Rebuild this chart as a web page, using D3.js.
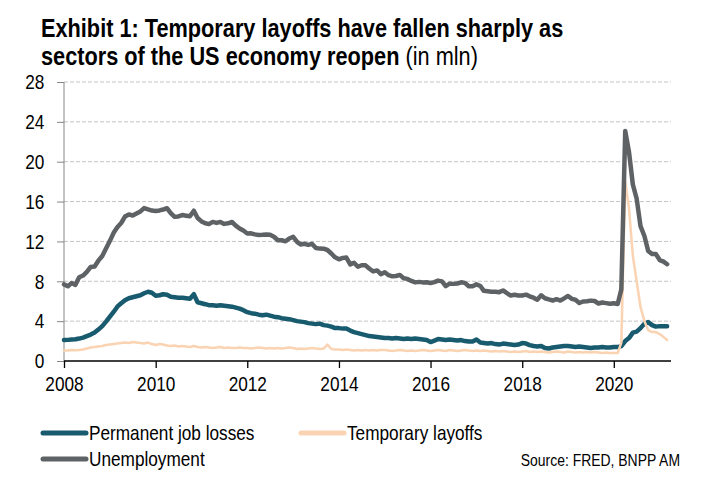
<!DOCTYPE html>
<html>
<head>
<meta charset="utf-8">
<script src="https://cdn.jsdelivr.net/npm/d3@7"></script>
<style>
  body { margin: 0; background: #fff; }
  svg { display: block; font-family: 'Liberation Sans', Arial, sans-serif; }
</style>
</head>
<body>
<div id="chart"></div>
<script>
// monthly, Jan 2008 .. Mar 2021 (millions)
const startMonth = '2008-01-01';

const permanent = [
  2.10, 2.12, 2.15, 2.18, 2.25, 2.35, 2.50, 2.65, 2.85, 3.15, 3.50, 3.95,
  4.45, 4.95, 5.45, 5.80, 6.10, 6.30, 6.40, 6.50, 6.60, 6.80, 6.95, 6.85,
  6.55, 6.60, 6.70, 6.65, 6.45, 6.40, 6.35, 6.35, 6.30, 6.25, 6.70, 5.90,
  5.80, 5.70, 5.60, 5.60, 5.55, 5.60, 5.55, 5.50, 5.45, 5.35, 5.25, 5.10,
  4.90, 4.80, 4.75, 4.65, 4.60, 4.65, 4.55, 4.45, 4.40, 4.30, 4.25, 4.20,
  4.10, 4.00, 3.95, 3.90, 3.80, 3.75, 3.70, 3.75, 3.60, 3.55, 3.45, 3.30,
  3.30, 3.25, 3.25, 3.05, 2.90, 2.80, 2.70, 2.60, 2.50, 2.45, 2.40, 2.35,
  2.30, 2.30, 2.25, 2.30, 2.25, 2.20, 2.25, 2.20, 2.25, 2.20, 2.15, 2.10,
  1.90, 2.05, 2.20, 2.15, 2.10, 2.15, 2.10, 2.05, 2.10, 2.00, 1.95, 1.95,
  2.15, 1.85, 1.80, 1.75, 1.80, 1.70, 1.65, 1.75, 1.70, 1.65, 1.60, 1.65,
  1.80, 1.75, 1.60, 1.50, 1.45, 1.50, 1.30, 1.25, 1.35, 1.40, 1.45, 1.50,
  1.50, 1.45, 1.40, 1.45, 1.40, 1.35, 1.30, 1.35, 1.35, 1.40, 1.35, 1.35,
  1.40, 1.40, 1.50, 2.00, 2.30, 2.85, 2.95, 3.30, 3.75, 3.90, 3.60, 3.45,
  3.50, 3.50, 3.50
];

const temporary = [
  1.05, 1.05, 1.10, 1.08, 1.10, 1.15, 1.25, 1.35, 1.40, 1.45, 1.50, 1.60,
  1.65, 1.70, 1.75, 1.80, 1.85, 1.80, 1.90, 1.85, 1.80, 1.75, 1.85, 1.70,
  1.60, 1.70, 1.65, 1.55, 1.50, 1.55, 1.45, 1.50, 1.45, 1.40, 1.50, 1.40,
  1.35, 1.40, 1.35, 1.30, 1.35, 1.40, 1.30, 1.35, 1.30, 1.30, 1.35, 1.30,
  1.30, 1.25, 1.30, 1.35, 1.30, 1.25, 1.30, 1.25, 1.30, 1.25, 1.30, 1.35,
  1.30, 1.20, 1.25, 1.20, 1.25, 1.30, 1.25, 1.20, 1.25, 1.65, 1.20, 1.15,
  1.15, 1.10, 1.15, 1.10, 1.05, 1.10, 1.05, 1.10, 1.05, 1.10, 1.05, 1.10,
  1.10, 1.05, 1.00, 1.05, 1.10, 1.05, 1.00, 1.05, 1.00, 1.05, 1.10, 1.05,
  1.00, 1.05, 1.10, 1.05, 1.00, 1.10, 1.05, 1.00, 1.05, 1.10, 1.05, 1.00,
  1.05, 1.00, 1.05, 1.00, 0.95, 1.00, 0.95, 1.00, 0.95, 0.90, 0.95, 0.90,
  0.95, 1.00, 0.90, 0.95, 0.90, 0.95, 0.90, 0.85, 0.90, 0.95, 0.90, 0.85,
  0.95, 0.90, 0.85, 0.90, 0.85, 0.90, 0.85, 0.90, 0.85, 0.80, 0.85, 0.80,
  0.80, 0.80, 1.85, 18.05, 15.35, 10.55, 8.00, 5.40, 4.00, 3.10, 2.90, 2.90,
  2.70, 2.40, 2.10
];

const unemployment = [
  7.69, 7.50, 7.82, 7.64, 8.40, 8.58, 8.94, 9.44, 9.49, 10.07, 10.54, 11.29,
  12.06, 12.90, 13.43, 13.85, 14.50, 14.71, 14.60, 14.81, 15.01, 15.35, 15.22, 15.10,
  15.05, 15.11, 15.20, 15.33, 14.85, 14.47, 14.51, 14.65, 14.58, 14.52, 15.08, 14.35,
  14.01, 13.82, 13.74, 13.96, 13.86, 13.96, 13.76, 13.82, 13.95, 13.59, 13.30, 13.09,
  12.80, 12.81, 12.71, 12.65, 12.66, 12.69, 12.66, 12.47, 12.12, 12.12, 12.01, 12.30,
  12.47, 11.95, 11.69, 11.76, 11.65, 11.75, 11.34, 11.28, 11.27, 11.14, 10.79, 10.40,
  10.20, 10.35, 10.38, 9.70, 9.86, 9.46, 9.61, 9.60, 9.26, 8.99, 9.09, 8.72,
  8.90, 8.61, 8.50, 8.53, 8.64, 8.30, 8.24, 8.03, 7.89, 7.94, 7.89, 7.91,
  7.83, 7.92, 8.07, 7.99, 7.52, 7.76, 7.74, 7.78, 7.90, 7.84, 7.50, 7.50,
  7.69, 7.53, 7.04, 7.00, 6.96, 6.96, 6.91, 7.08, 6.81, 6.57, 6.64, 6.57,
  6.57, 6.66, 6.49, 6.35, 6.15, 6.59, 6.30, 6.18, 6.07, 6.20, 6.07, 6.29,
  6.53, 6.24, 6.15, 5.82, 5.97, 5.99, 6.06, 6.02, 5.77, 5.87, 5.81, 5.74,
  5.80, 5.72, 7.19, 23.08, 20.99, 17.70, 16.31, 13.54, 12.54, 11.05, 10.73, 10.74,
  10.13, 9.97, 9.71
];

const yTicks = [0, 4, 8, 12, 16, 20, 24, 28];
const xTickYears = [2008, 2010, 2012, 2014, 2016, 2018, 2020];

const series = [
  { name: 'Permanent job losses', values: permanent, color: '#185a6e', width: 4.5 },
  { name: 'Temporary layoffs', values: temporary, color: '#fad3b3', width: 2.5 },
  { name: 'Unemployment', values: unemployment, color: '#5e6265', width: 4.5 }
];

const W = 716, H = 498;
const LEFT = 64, RIGHT = 671, TOP = 82, BOTTOM = 361;
const NARROW = 0.82; // no Arial Narrow here, so squeeze Liberation Sans

const start = new Date(startMonth + 'T00:00:00');
const months = permanent.map((d, i) => d3.timeMonth.offset(start, i));

const x = d3.scaleTime()
            .domain([start, d3.timeMonth.offset(start, months.length)])
            .range([LEFT, RIGHT]);

const y = d3.scaleLinear()
            .domain([0, 28])
            .range([BOTTOM, TOP]);

const svg = d3.select('#chart')
              .append('svg')
              .attr('width', W)
              .attr('height', H);

const narrowText = (px, py, size) => svg.append('text')
                                        .attr('transform', `translate(${px}, ${py}) scale(${NARROW}, 1)`)
                                        .style('font-size', `${size}px`)
                                        .attr('fill', '#000');

// title
narrowText(41, 37, 26.5)
  .style('font-weight', 'bold')
  .text('Exhibit 1: Temporary layoffs have fallen sharply as');
const t2 = narrowText(41, 65, 26.5);
t2.append('tspan').style('font-weight', 'bold').text('sectors of the US economy reopen');
t2.append('tspan').text(' (in mln)');

// gridlines
svg.append('g')
   .selectAll('line')
   .data(yTicks.filter(d => d > 0))
   .enter()
   .append('line')
   .attr('x1', LEFT)
   .attr('x2', RIGHT)
   .attr('y1', d => y(d))
   .attr('y2', d => y(d))
   .attr('stroke', '#c4c4c4')
   .attr('stroke-width', 1)
   .attr('stroke-dasharray', '4,2');

// y axis
const yAxis = d3.axisLeft(y)
                .tickValues(yTicks)
                .tickSize(7)
                .tickPadding(17);

const yAx = svg.append('g')
               .attr('transform', `translate(${LEFT}, 0)`)
               .call(yAxis);
yAx.attr('font-family', null);
yAx.select('.domain').attr('stroke', '#868686').attr('d', `M0,${TOP}V${BOTTOM}`);
yAx.selectAll('line').attr('stroke', '#868686');
yAx.selectAll('text')
   .style('font-size', '21px')
   .attr('fill', '#000')
   .attr('transform', `scale(${NARROW}, 1)`);

// x axis
const xAxis = d3.axisBottom(x)
                .tickValues(xTickYears.map(yr => new Date(yr, 0, 1)))
                .tickFormat(d3.timeFormat('%Y'))
                .tickSize(7)
                .tickPadding(8);

const xAx = svg.append('g')
               .attr('transform', `translate(0, ${BOTTOM})`)
               .call(xAxis);
xAx.attr('font-family', null);
xAx.select('.domain').attr('stroke', '#000').attr('stroke-width', 1.3).attr('d', `M${LEFT},0H${RIGHT}`);
xAx.selectAll('line').attr('stroke', '#000').attr('stroke-width', 1.3);
xAx.selectAll('text')
   .style('font-size', '21px')
   .attr('fill', '#000')
   .attr('transform', `scale(${NARROW}, 1)`);

// lines
const line = d3.line()
               .x((d, i) => x(months[i]))
               .y(d => y(d));

series.forEach(s => {
  svg.append('path')
     .datum(s.values)
     .attr('fill', 'none')
     .attr('stroke', s.color)
     .attr('stroke-width', s.width)
     .attr('stroke-linejoin', 'round')
     .attr('stroke-linecap', 'round')
     .attr('d', line);
});

// legend
const legendPos = [
  { x: 43, y: 433 },
  { x: 301, y: 433 },
  { x: 43, y: 459 }
];

series.forEach((s, i) => {
  const p = legendPos[i];
  svg.append('line')
     .attr('x1', p.x)
     .attr('x2', p.x + 43)
     .attr('y1', p.y)
     .attr('y2', p.y)
     .attr('stroke', s.color)
     .attr('stroke-width', 5)
     .attr('stroke-linecap', 'round');
  narrowText(p.x + 46, p.y + 7, 21).text(s.name);
});

narrowText(680, 466, 17)
  .attr('text-anchor', 'end')
  .text('Source: FRED, BNPP AM');
</script>
</body>
</html>
